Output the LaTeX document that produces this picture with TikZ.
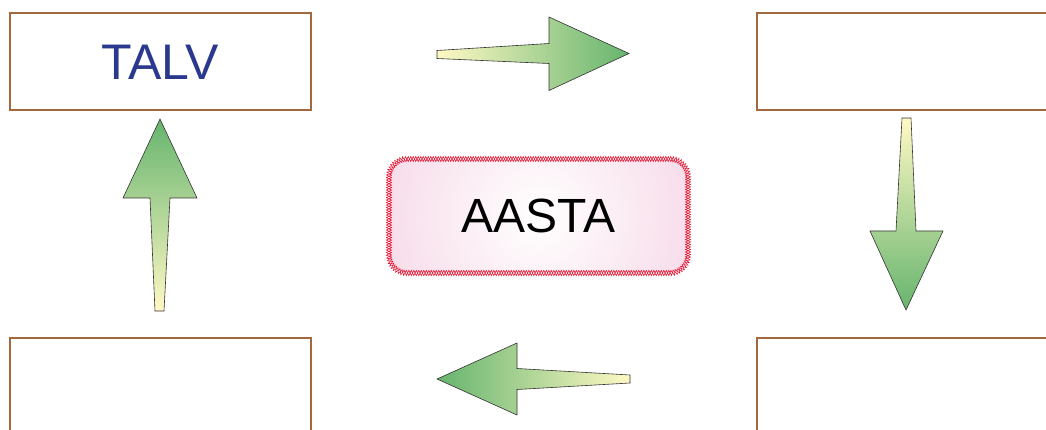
\documentclass[tikz,border=0pt]{standalone}
\usepackage{fontspec}
\setmainfont{Liberation Sans}
\usetikzlibrary{decorations.pathmorphing}
\definecolor{boxbrown}{RGB}{163,104,62}
\definecolor{talvblue}{RGB}{42,57,141}
\definecolor{arrtail}{RGB}{255,249,196}
\definecolor{arrtip}{RGB}{102,180,110}
\definecolor{pinkfill}{RGB}{242,198,220}
\definecolor{zigred}{RGB}{228,10,40}
\tikzset{
  x=1pt,y=-1pt,
  cornerbox/.style={draw=boxbrown,line width=1.6pt,fill=white,minimum width=301pt,minimum height=97pt,inner sep=0pt,anchor=north west},
  arrowshape/.style={draw=black!80,line width=0.6pt},
  zig/.style={zigred,line width=0.55pt,decorate,decoration={zigzag,segment length=5pt,amplitude=2.6pt,#1}},
  zig/.default={},
}
\def\centerpath{(407,159) -- (670,159) arc[start angle=90,end angle=0,radius=18pt] -- (688,255) arc[start angle=0,end angle=-90,radius=18pt] -- (407,273) arc[start angle=-90,end angle=-180,radius=18pt] -- (389,177) arc[start angle=180,end angle=90,radius=18pt] -- cycle}
\begin{document}
\begin{tikzpicture}
\useasboundingbox (0,0) rectangle (1046,430);
\clip (0,0) rectangle (1046,430);
% boxes
\node[cornerbox] (tl) at (9,12) {};
\node[cornerbox] (tr) at (756,12) {};
\node[cornerbox] (bl) at (9,337) {};
\node[cornerbox] (br) at (756,337) {};
\node[text=talvblue,font=\fontsize{50}{50}\selectfont] (talv) at (160,62) {TALV};
% center
\begin{scope}
\clip \centerpath;
\shade[inner color=white,outer color=pinkfill] (538.5,216) circle[radius=260pt];
\end{scope}
\draw[zig] \centerpath;
\draw[zig={mirror}] \centerpath;
\node[font=\fontsize{48}{48}\selectfont] (aasta) at (538.5,216) {AASTA};
% top arrow (right)
\shade[arrowshape,left color=arrtail,right color=arrtip]
  (437,50.5) -- (549,43.5) -- (549,17) -- (629,53.5) -- (549,90.5) -- (549,63.5) -- (437,58.5) -- cycle;
% bottom arrow (left)
\shade[arrowshape,right color=arrtail,left color=arrtip]
  (630,375) -- (517,368.5) -- (517,343) -- (437,379) -- (517,415) -- (517,389.5) -- (630,383) -- cycle;
% left arrow (up)
\shade[arrowshape,bottom color=arrtail,top color=arrtip]
  (155,311) -- (150,198) -- (123,198) -- (160,119) -- (197,198) -- (170,198) -- (164,311) -- cycle;
% right arrow (down)
\shade[arrowshape,top color=arrtail,bottom color=arrtip]
  (902,118) -- (896,231) -- (870,231) -- (906,310) -- (943,231) -- (916,231) -- (911,118) -- cycle;
\end{tikzpicture}
\end{document}
